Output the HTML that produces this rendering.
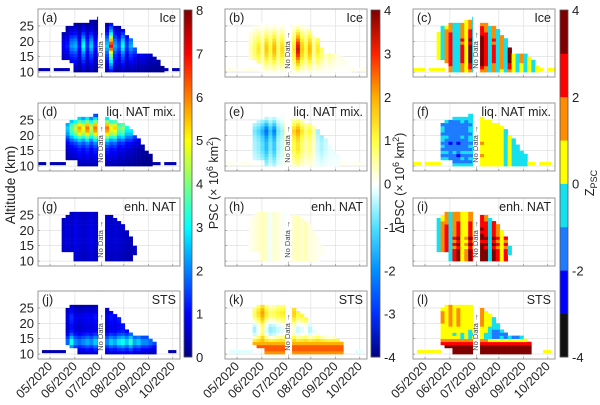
<!DOCTYPE html>
<html><head><meta charset="utf-8"><style>
html,body{margin:0;padding:0;background:#fff;}
svg{display:block;font-family:"Liberation Sans",sans-serif;}
</style></head><body>
<svg id="fig" width="600" height="405" viewBox="0 0 600 405" xmlns="http://www.w3.org/2000/svg"></svg>
<script>
// ---- data ----
const monthLabels = ["05/2020","06/2020","07/2020","08/2020","09/2020","10/2020"];
const monthDays = [15,46,76,107,138,168]; // days since Apr 16
const altTicks = [10,15,20,25];
const panelLetters = ["a","b","c","d","e","f","g","h","i","j","k","l"];
const rowTitles = ["Ice","liq. NAT mix.","enh. NAT","STS"];
const cbLeftTicks = [0,1,2,3,4,5,6,7,8];
const cbMidTicks = [-4,-3,-2,-1,0,1,2,3,4];
const cbRightTicks = [-4,-2,0,2,4];
// top / bottom altitude per ~5-day column (36 columns), 0 = no data
const top1 = [0,0,0,0,0,0,23,25,25,26,26,26,26,27,27,28,0,26,26,25,25,24,22,21,18,16,16,16,16,15,14,12,0,0,0,0];
const bot1 = [0,0,0,0,0,0,14,14,13,10.5,10.5,10.5,10.5,10.5,10.5,10.5,0,10.5,10.5,10.5,10.5,10.5,10.5,10.5,10.5,10.5,10.5,10.5,10.5,10.5,10.5,10.5,0,0,0,0];
const strip1 = [1,1,1,0,1,1,1,1,0,0,0,0,0,0,0,0,0,0,0,0,0,0,0,0,0,0,0,0,0,0,0,0,1,0,1,1];
const top2 = [0,0,0,0,0,0,0,24,25,25,26,26,26,26,27,27,0,26,25,25,24,24,23,22,20,19,17,15,14,0,0,0,0,0,0,0];
const bot2 = [0,0,0,0,0,0,0,12.5,12.5,12.5,10.5,10.5,10.5,10.5,10.5,10.5,0,10.5,10.5,10.5,10.5,10.5,10.5,10.5,10.5,10.5,10.5,10.5,10.5,0,0,0,0,0,0,0];
const strip2 = [1,1,0,1,1,1,1,0,0,0,0,0,0,0,0,0,0,0,0,0,0,0,0,0,0,0,0,0,0,1,1,0,1,1,1,0];
const top3 = [0,0,0,0,0,0,24,25,26,26,26,26,26,26,26,26,0,25,25,24,23,22,20,18,15,0,0,0,0,0,0,0,0,0,0,0];
const bot3 = [0,0,0,0,0,0,13.5,13.5,13.5,10.5,10.5,10.5,10.5,10.5,10.5,10.5,0,10.5,10.5,10.5,10.5,10.5,10.5,10.5,12,0,0,0,0,0,0,0,0,0,0,0];
const strip3 = [0,0,0,0,0,0,0,0,0,0,0,0,0,0,0,0,0,0,0,0,0,0,0,0,0,0,0,0,0,0,0,0,0,0,0,0];
const top4 = [0,0,0,0,0,0,0,25,26,26,26,26,26,26,26,26,0,25,24,23,22,20,18,17,16,16,16,16,15,14,0,0,0,0,0,0];
const bot4 = [0,0,0,0,0,0,0,13,12.5,12,10.5,10.5,10.5,10.5,10.5,10.5,0,10.5,10.5,10.5,10.5,10.5,10.5,10.5,10.5,10.5,10.5,10.5,10.5,10.5,0,0,0,0,0,0];
const strip4 = [0,1,1,1,1,1,1,0,0,0,0,0,0,0,0,0,0,0,0,0,0,0,0,0,0,0,0,0,0,0,0,0,0,1,1,0];
// per-panel column amplitudes (36) and altitude profiles (22 bins, 8..30 km)
const ampA = [0,0,0,0,0,0,0.4,0.5,0.9,1.0,0.5,1.3,0.6,1.1,0.5,0.9,0,1.1,2.9,1.0,0.7,1.3,0.6,1.0,0.8,0.5,0.7,0.5,0.4,0.4,0.3,0.3,0,0,0,0];
const profA = [0,0,0.4,0.6,0.8,1.0,1.2,1.4,1.7,2.1,2.4,2.2,1.9,1.5,1.1,0.8,0.6,0.4,0.3,0.2,0.2,0.2];
const ampB = [0,0,0,0,0,0,0.2,0.4,0.6,0.3,0.8,0.5,0.9,0.4,0.7,0.3,0,0.6,1.6,0.8,0.5,0.9,0.3,0.6,0.4,0.2,0.3,0.2,0.1,0.1,0.1,0.1,0,0,0,0];
const profB = [0,0,0.3,0.6,0.9,1.2,1.5,1.8,2.0,2.1,2.0,1.8,1.5,1.2,0.9,0.6,0.3,0.1,0,0,0,0];
const ampC = [0,0,0,0,0,0,0.5,-0.5,1.5,2.5,-0.5,-0.5,2.0,0.5,3.0,-0.7,0,3.5,2.5,-0.5,2.0,-0.5,1.5,-0.5,3.0,0.5,-0.5,1.0,-0.5,0.5,-0.5,0.5,0,0,0,0];
const profC = [0,0,0.5,0.7,0.9,1.0,1.1,1.1,1.0,1.1,1.0,0.9,1.0,0.9,0.8,0.7,0.6,0.5,0.4,0.4,0.4,0.4];
const ampD = [0,0,0,0,0,0,0,0.7,1.0,1.2,1.5,1.3,1.6,1.2,1.6,1.3,0,1.6,1.3,1.4,1.0,1.1,0.8,0.8,0.6,0.5,0.4,0.3,0.3,0,0,0,0,0,0,0];
const profD = [0,0,0.3,0.4,0.5,0.6,0.7,0.8,1.0,1.3,1.8,2.5,3.2,3.6,3.8,3.4,2.6,1.8,1.0,0.5,0.3,0.2];
const ampE = [0,0,0,0,0,0,0,-0.3,-0.4,-0.6,-0.9,-0.5,-0.8,-0.3,-0.2,0.2,0,0.6,0.8,0.5,0.3,0.4,0.2,-0.2,-0.3,-0.2,-0.1,-0.1,-0.1,0,0,0,0,0,0,0];
const profE = [0,0,0.6,0.8,1.0,1.2,1.4,1.6,1.6,1.6,1.8,2.0,2.4,2.6,2.2,1.6,1.0,0.5,0.3,0.2,0.1,0];
const ampF = [0,0,0,0,0,0,0,-1.0,-1.2,-1.5,-1.3,-1.6,-1.2,-1.4,-1.0,-0.8,0,0.8,0.6,0.4,0.6,0.3,0.5,-0.3,0.4,-0.2,-0.5,-0.5,-0.5,0,0,0,0,0,0,0];
const profF = [0,0,0.6,1.2,0.8,1.3,0.7,1.2,0.9,1.4,1.0,0.8,1.2,1.0,0.9,1.1,0.8,0.6,0.5,0.5,0.5,0.5];
const ampG = [0,0,0,0,0,0,0.5,0.6,0.5,0.7,0.6,0.5,0.6,0.7,0.5,0.6,0,0.6,0.5,0.6,0.5,0.5,0.4,0.4,0.5,0,0,0,0,0,0,0,0,0,0,0];
const profG = [1,1,1,1,1,1.1,1.1,1.2,1.2,1.2,1.2,1.2,1.2,1.2,1.1,1.1,1,1,1,1,1,1];
const ampH = [0,0,0,0,0,0,0.1,0.2,0.3,0.4,0.3,-0.1,0.3,0.2,0.1,-0.1,0,0.3,0.4,0.3,0.4,0.2,0.2,0.1,0.1,0,0,0,0,0,0,0,0,0,0,0];
const profH = [1,1,1,1,1,1,1,1,1,1,1,1,1,1,1,1,1,1,1,1,1,1];
const ampI = [0,0,0,0,0,0,-0.5,1.5,2.5,-0.5,2.0,3.0,0.5,1.0,3.0,2.0,0,3.5,3.0,-0.5,3.0,2.0,0.5,2.0,-0.5,0,0,0,0,0,0,0,0,0,0,0];
const profI = [0.8,0.8,1.1,1.1,1.0,1.1,0.9,1.0,0.8,1.0,0.9,0.8,0.9,0.8,0.7,0.6,0.6,0.6,0.6,0.6,0.6,0.6];
const ampJ = [0,0,0,0,0,0,0,0.7,1.2,0.8,0.7,0.8,0.9,0.8,1.0,0.9,0,0.8,1.0,0.9,1.1,1.2,1.0,1.3,0.9,1.0,0.8,0.8,0.7,0.6,0,0,0,0,0,0];
const profJ = [0,0,0.8,1.2,1.8,2.6,2.6,2.0,1.4,1.0,0.9,0.9,1.0,1.1,1.1,0.9,0.7,0.5,0.4,0.3,0.2,0.2];
const ampK = [0,0,0,0,0,0,0,0.3,0.8,1.5,0.6,0.2,0.3,0.5,0.6,0.8,0,1.0,0.5,0.6,0.8,0.4,0.6,0.8,0.5,0.3,0.2,0.3,0.2,0.1,0,0,0,0,0,0];
const profK = [0,0,0,0,0,0,0.5,1.0,1.0,1.0,1.0,1.0,1.0,1.0,1.0,1.0,1.0,0.8,0.6,0.4,0.2,0];
const baseK = [0,0,2.2,2.6,2.6,2.0,1.0,0,-0.6,-0.8,-0.8,-0.6,-0.2,0.2,0.5,0.6,0.4,0.2,0,0,0,0];
const ampL = [0,0,0,0,0,0,0,0.7,0.5,0.9,0.4,0.8,0.3,0.5,0.2,0.4,0,0.8,0.3,-0.2,-0.8,-1.0,-0.6,-1.2,-0.6,-0.9,-1.0,-0.6,-0.4,-0.3,0,0,0,0,0,0];
const profL = [0,0,0,0,0,0.3,0.7,1,1,1,1,1,1,1,1,1,1,1,1,1,1,1];
const baseL = [0,0,3.5,3.6,3.3,2.6,1.0,-0.4,-0.5,-0.3,0,0.2,0.3,0.3,0.3,0.3,0.2,0.1,0,0,0,0];
const zeros22 = [0,0,0,0,0,0,0,0,0,0,0,0,0,0,0,0,0,0,0,0,0,0];
const stripVals = [0.4,0.15,0.5, 0.4,0.1,0.5, 0.4,0.1,0.5, 0.4,-0.2,0.3];

// ---- geometry ----
const svg = document.getElementById('fig');
const NS = "http://www.w3.org/2000/svg";
const colX = [38,225,413], rowY = [9,103,198,291], PW=142, PH=68;
const Z0=8.4, Z1=30.5, NDAYS=177, NCOL=36;
function xDay(px, d){ return px + d/NDAYS*PW; }
function yAlt(py, z){ return py + (Z1 - z)/(Z1-Z0)*PH; }
function el(tag, attrs, parent){ const e=document.createElementNS(NS,tag); for(const k in attrs) e.setAttribute(k,attrs[k]); (parent||svg).appendChild(e); return e; }

// ---- colormaps ----
function cl(v){return Math.max(0,Math.min(1,v));}
function rgb(r,g,b){return `rgb(${Math.round(r*255)},${Math.round(g*255)},${Math.round(b*255)})`;}
function jet(v){ const t=cl(v/8); return rgb(cl(1.5-Math.abs(4*t-3)),cl(1.5-Math.abs(4*t-2)),cl(1.5-Math.abs(4*t-1))); }
const divStops=[[-4,[0,0,0.5]],[-3,[0,0.19,1]],[-2,[0,0.56,1]],[-1,[0.31,0.88,1]],[-0.2,[0.88,1,1]],[0,[1,1,1]],[0.2,[1,1,0.88]],[1,[1,1,0.25]],[2,[1,0.69,0]],[3,[1,0.13,0]],[4,[0.5,0,0]]];
function div(v){ v=Math.max(-4,Math.min(4,v)); for(let i=0;i<divStops.length-1;i++){const [a,ca]=divStops[i],[b,cb]=divStops[i+1]; if(v<=b){const t=(v-a)/(b-a); return rgb(ca[0]+(cb[0]-ca[0])*t,ca[1]+(cb[1]-ca[1])*t,ca[2]+(cb[2]-ca[2])*t);}} return rgb(0.5,0,0);}
const zCols=["#111111","#0000ff","#1e7bff","#14e0f0","#ffff00","#ff8c00","#ff0000","#800000"];
function zmap(v){ let i=Math.floor(v+4); i=Math.max(0,Math.min(7,i)); return zCols[i]; }

// ---- panels ----
const rows=[[top1,bot1,strip1],[top2,bot2,strip2],[top3,bot3,strip3],[top4,bot4,strip4]];
const panelData=[[ampA,profA,zeros22],[ampB,profB,zeros22],[ampC,profC,zeros22],[ampD,profD,zeros22],[ampE,profE,zeros22],[ampF,profF,zeros22],[ampG,profG,zeros22],[ampH,profH,zeros22],[ampI,profI,zeros22],[ampJ,profJ,zeros22],[ampK,profK,baseK],[ampL,profL,baseL]];
const cmaps=[jet,div,zmap];
const colW = PW/NCOL;

for(let r=0;r<4;r++){
 for(let c=0;c<3;c++){
  const idx=r*3+c, px=colX[c], py=rowY[r];
  const g=el('g',{});
  
  
  el('rect',{x:px,y:py,width:PW,height:PH,fill:'#fff'},g);
  for(const d of monthDays){ const x=xDay(px,d); el('line',{x1:x,x2:x,y1:py,y2:py+PH,stroke:'#dcdcdc','stroke-width':0.6},g);
    el('line',{x1:x,x2:x,y1:py+PH,y2:py+PH-2,stroke:'#777','stroke-width':0.6},g);}
  for(const z of altTicks){ const y=yAlt(py,z); el('line',{x1:px,x2:px+PW,y1:y,y2:y,stroke:'#dcdcdc','stroke-width':0.6},g);
    el('line',{x1:px,x2:px+2,y1:y,y2:y,stroke:'#777','stroke-width':0.6},g);}
  const [top,bot,strip]=rows[r]; const [amp,prof,base]=panelData[idx]; const cm=cmaps[c];
  const hm=el('g',{},g);
  
  
  for(let k=0;k<NCOL;k++){
   const x=px+k*colW;
   if(strip[k]){ const v=stripVals[idx]; const re=el('rect',{x:x,y:yAlt(py,11.3),width:colW+0.3,height:yAlt(py,10.3)-yAlt(py,11.3),fill:cm(v)},hm);
       }
   if(!top[k]) continue;
   for(let zi=0;zi<22;zi++){
    const z=8+zi;
    if(z<bot[k]-0.5 || z+1>top[k]+0.5) continue;
    const v=amp[k]*prof[zi]+base[zi];
    const re=el('rect',{x:x,y:yAlt(py,z+1),width:colW+0.3,height:yAlt(py,z)-yAlt(py,z+1)+0.3,fill:cm(v)},hm);
     
   }
  }
  const gx=xDay(px,78);
  el('rect',{x:gx-2.5,y:py+1,width:5,height:PH-2,fill:'#fff'},g);
  const nd=el('text',{x:0,y:0,transform:`translate(${gx+2.5},${py+PH/2+12}) rotate(-90)`,'font-size':7.5,'text-anchor':'middle',fill:'#444'},g);
  nd.textContent='\u2190 No Data \u2192';
   
  el('rect',{x:px,y:py,width:PW,height:PH,fill:'none',stroke:'#999','stroke-width':1},g);
  const lt=el('text',{x:px+4,y:py+13,'font-size':12.5,fill:'#222'},g); lt.textContent='('+panelLetters[idx]+')';
   
  const tt=el('text',{x:px+PW-4,y:py+13,'font-size':12.5,'text-anchor':'end',fill:'#222'},g); tt.textContent=rowTitles[r];
   
  if(c===0){ for(const z of altTicks){ const t=el('text',{x:px-4,y:yAlt(py,z)+4.5,'font-size':13,'text-anchor':'end',fill:'#222'},g); t.textContent=z;
       } }
  if(r===3){ monthLabels.forEach((m,i)=>{ const x=xDay(px,monthDays[i]); const t=el('text',{x:0,y:0,transform:`translate(${x+3},${py+PH+8}) rotate(-45)`,'font-size':12.5,'text-anchor':'end',fill:'#222'},g); t.textContent=m;
       }); }
 }
}
const yt=el('text',{x:0,y:0,transform:'translate(15,185) rotate(-90)','font-size':14,'text-anchor':'middle',fill:'#222'});
yt.textContent='Altitude (km)';
 

// ---- colorbars ----
const CBT=10, CBB=357;
function colorbar(x,w,vmin,vmax,cm,ticks,name,n){
 const g=el('g',{});  
 for(let i=0;i<n;i++){ const v=vmin+(i+0.5)*(vmax-vmin)/n; const y0=CBB-(i+1)*(CBB-CBT)/n;
  el('rect',{x:x,y:y0,width:w,height:(CBB-CBT)/n+0.4,fill:cm(v)},g); }
 el('rect',{x:x,y:CBT,width:w,height:CBB-CBT,fill:'none',stroke:'#555','stroke-width':0.8},g);
 for(const t of ticks){ const y=CBB-(t-vmin)/(vmax-vmin)*(CBB-CBT);
  const tx=el('text',{x:x+w+4,y:y+5,'font-size':13,fill:'#222'},g); tx.textContent=t;
    }
}
colorbar(184,8,0,8,jet,cbLeftTicks,'psc-colorbar',160);
colorbar(371,9,-4,4,div,cbMidTicks,'delta-psc-colorbar',160);
colorbar(560,8,-4,4,zmap,cbRightTicks,'zpsc-colorbar',8);
function vlabel(x,y,html,name){ const t=el('text',{x:0,y:0,transform:`translate(${x},${y}) rotate(-90)`,'font-size':12.5,'text-anchor':'middle',fill:'#222'}); t.innerHTML=html;
   }
vlabel(218,183,'PSC (× 10<tspan font-size="9" dy="-5">6</tspan><tspan dy="5"> km</tspan><tspan font-size="9" dy="-5">2</tspan><tspan dy="5">)</tspan>','psc-colorbar-title');
vlabel(404,183,'ΔPSC (× 10<tspan font-size="9" dy="-5">6</tspan><tspan dy="5"> km</tspan><tspan font-size="9" dy="-5">2</tspan><tspan dy="5">)</tspan>','delta-psc-colorbar-title');
vlabel(594,183,'Z<tspan font-size="9" dy="3">PSC</tspan>','zpsc-colorbar-title');
</script>
</body></html>
